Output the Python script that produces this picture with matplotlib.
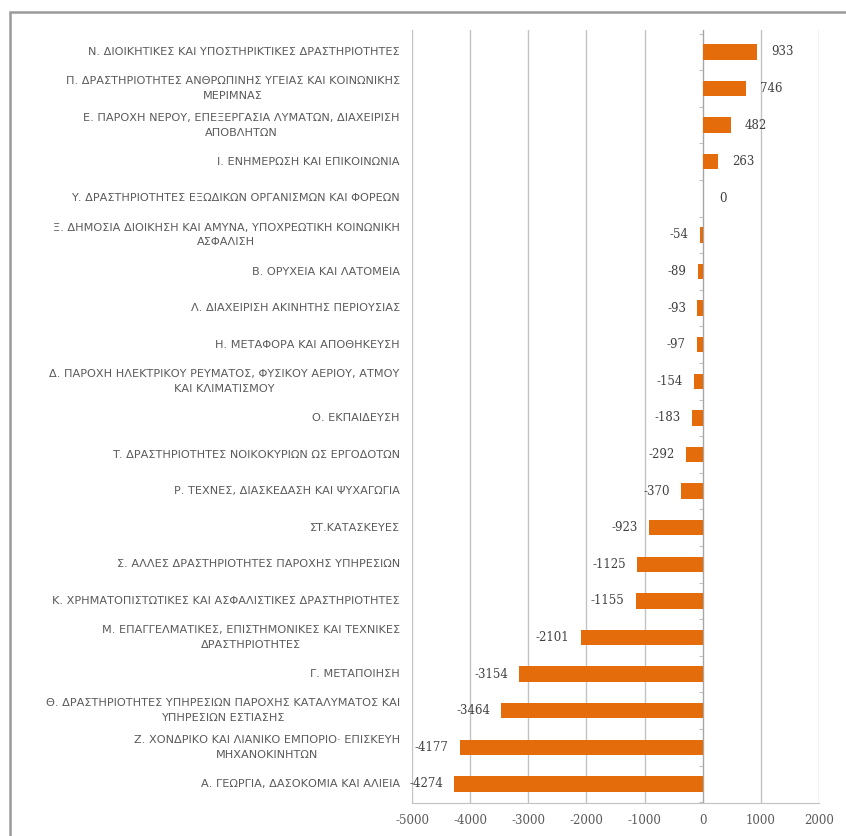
import numpy as np
import matplotlib
matplotlib.use("Agg")
import matplotlib.pyplot as plt
from matplotlib.patches import Rectangle
from matplotlib.ticker import FuncFormatter, FixedLocator

# sectors, top to bottom as in the chart
sectors = [
    "Ν. ΔΙΟΙΚΗΤΙΚΕΣ ΚΑΙ ΥΠΟΣΤΗΡΙΚΤΙΚΕΣ ΔΡΑΣΤΗΡΙΟΤΗΤΕΣ",
    "Π. ΔΡΑΣΤΗΡΙΟΤΗΤΕΣ ΑΝΘΡΩΠΙΝΗΣ ΥΓΕΙΑΣ ΚΑΙ ΚΟΙΝΩΝΙΚΗΣ\nΜΕΡΙΜΝΑΣ",
    "Ε. ΠΑΡΟΧΗ ΝΕΡΟΥ, ΕΠΕΞΕΡΓΑΣΙΑ ΛΥΜΑΤΩΝ, ΔΙΑΧΕΙΡΙΣΗ\nΑΠΟΒΛΗΤΩΝ",
    "Ι. ΕΝΗΜΕΡΩΣΗ ΚΑΙ ΕΠΙΚΟΙΝΩΝΙΑ",
    "Υ. ΔΡΑΣΤΗΡΙΟΤΗΤΕΣ ΕΞΩΔΙΚΩΝ ΟΡΓΑΝΙΣΜΩΝ ΚΑΙ ΦΟΡΕΩΝ",
    "Ξ. ΔΗΜΟΣΙΑ ΔΙΟΙΚΗΣΗ ΚΑΙ ΑΜΥΝΑ, ΥΠΟΧΡΕΩΤΙΚΗ ΚΟΙΝΩΝΙΚΗ\nΑΣΦΑΛΙΣΗ",
    "Β. ΟΡΥΧΕΙΑ ΚΑΙ ΛΑΤΟΜΕΙΑ",
    "Λ. ΔΙΑΧΕΙΡΙΣΗ ΑΚΙΝΗΤΗΣ ΠΕΡΙΟΥΣΙΑΣ",
    "Η. ΜΕΤΑΦΟΡΑ ΚΑΙ ΑΠΟΘΗΚΕΥΣΗ",
    "Δ. ΠΑΡΟΧΗ ΗΛΕΚΤΡΙΚΟΥ ΡΕΥΜΑΤΟΣ, ΦΥΣΙΚΟΥ ΑΕΡΙΟΥ, ΑΤΜΟΥ\nΚΑΙ ΚΛΙΜΑΤΙΣΜΟΥ",
    "Ο. ΕΚΠΑΙΔΕΥΣΗ",
    "Τ. ΔΡΑΣΤΗΡΙΟΤΗΤΕΣ ΝΟΙΚΟΚΥΡΙΩΝ ΩΣ ΕΡΓΟΔΟΤΩΝ",
    "Ρ. ΤΕΧΝΕΣ, ΔΙΑΣΚΕΔΑΣΗ ΚΑΙ ΨΥΧΑΓΩΓΙΑ",
    "ΣΤ.ΚΑΤΑΣΚΕΥΕΣ",
    "Σ. ΑΛΛΕΣ ΔΡΑΣΤΗΡΙΟΤΗΤΕΣ ΠΑΡΟΧΗΣ ΥΠΗΡΕΣΙΩΝ",
    "Κ. ΧΡΗΜΑΤΟΠΙΣΤΩΤΙΚΕΣ ΚΑΙ ΑΣΦΑΛΙΣΤΙΚΕΣ ΔΡΑΣΤΗΡΙΟΤΗΤΕΣ",
    "Μ. ΕΠΑΓΓΕΛΜΑΤΙΚΕΣ, ΕΠΙΣΤΗΜΟΝΙΚΕΣ ΚΑΙ ΤΕΧΝΙΚΕΣ\nΔΡΑΣΤΗΡΙΟΤΗΤΕΣ",
    "Γ. ΜΕΤΑΠΟΙΗΣΗ",
    "Θ. ΔΡΑΣΤΗΡΙΟΤΗΤΕΣ ΥΠΗΡΕΣΙΩΝ ΠΑΡΟΧΗΣ ΚΑΤΑΛΥΜΑΤΟΣ ΚΑΙ\nΥΠΗΡΕΣΙΩΝ ΕΣΤΙΑΣΗΣ",
    "Ζ. ΧΟΝΔΡΙΚΟ ΚΑΙ ΛΙΑΝΙΚΟ ΕΜΠΟΡΙΟ· ΕΠΙΣΚΕΥΗ\nΜΗΧΑΝΟΚΙΝΗΤΩΝ",
    "Α. ΓΕΩΡΓΙΑ, ΔΑΣΟΚΟΜΙΑ ΚΑΙ ΑΛΙΕΙΑ",
]
values = [933, 746, 482, 263, 0, -54, -89, -93, -97, -154, -183,
          -292, -370, -923, -1125, -1155, -2101, -3154, -3464, -4177, -4274]
xticks = [-5000, -4000, -3000, -2000, -1000, 0, 1000, 2000]

bar_color = "#E46C0A"
grid_color = "#c2c2c2"
text_color = "#5a5a5a"

fig = plt.figure(figsize=(8.46, 8.36), dpi=100)
ax = fig.add_axes([412 / 846, 1 - 803 / 836, 407 / 846, 773 / 836])

pos = np.arange(len(values))
ax.barh(pos, values, height=0.42, color=bar_color, zorder=3)

ax.set_xlim(-5000, 2000)
ax.set_ylim(len(values) - 0.48, -0.6)

ax.xaxis.set_major_locator(FixedLocator(xticks))
ax.xaxis.set_major_formatter(FuncFormatter(lambda v, p: str(int(v))))
ax.grid(axis="x", color=grid_color, lw=1, zorder=0)
ax.tick_params(axis="x", length=0, pad=8, labelsize=8.5, labelcolor=text_color)
for lab in ax.get_xticklabels():
    lab.set_family("DejaVu Serif")

# vertical axis sits at zero, with small ticks between categories
ax.spines["left"].set_position(("data", 0))
ax.spines["left"].set_color("#a6a6a6")
ax.spines["bottom"].set_color(grid_color)
ax.spines["top"].set_visible(False)
ax.spines["right"].set_visible(False)
ax.set_yticks(np.arange(len(values) + 1) - 0.5)
ax.set_yticklabels([])
ax.tick_params(axis="y", direction="out", length=3, color="#c0c0c0")

# category labels to the left of the plot area
for i, s in enumerate(sectors):
    ax.text(-0.03, i, s, transform=ax.get_yaxis_transform(), ha="right",
            va="center", multialignment="center", fontsize=8.1,
            color=text_color, linespacing=1.6)

# value labels
for i, v in enumerate(values):
    if v >= 0:
        ax.annotate(str(v), (v, i), xytext=(10 if v else 12, 0),
                    textcoords="offset points", ha="left", va="center",
                    fontsize=8.5, family="DejaVu Serif", color="#404040")
    else:
        ax.annotate(str(v), (v, i), xytext=(-8, 0),
                    textcoords="offset points", ha="right", va="center",
                    fontsize=8.5, family="DejaVu Serif", color="#404040")

# outer frame of the chart
fig.patches.append(Rectangle((9.5 / 846, -0.05), 1.2, 1.05 - 12.5 / 836,
                             transform=fig.transFigure, fill=False,
                             edgecolor="#9a9a9a", lw=1.8))

fig.savefig("out.png", dpi=100)
